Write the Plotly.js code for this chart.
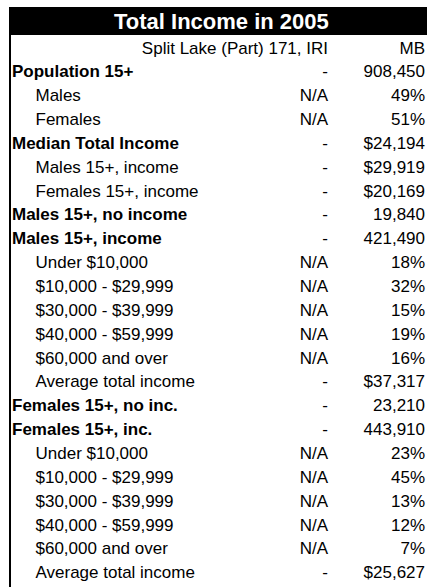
<!DOCTYPE html>
<html>
<head>
<meta charset="utf-8">
<script src="https://cdn.plot.ly/plotly-3.0.1.min.js"></script>
<style>html,body{margin:0;padding:0;background:#fff;}#chart{width:427px;height:587px;}</style>
</head>
<body>
<div id="chart"></div>
<script>
const titleText = "Total Income in 2005";
const headerGeo = "Split Lake (Part) 171, IRI";
const headerProv = "MB";
const rowLabels = [
  "Population 15+", "Males", "Females", "Median Total Income",
  "Males 15+, income", "Females 15+, income", "Males 15+, no income",
  "Males 15+, income", "Under $10,000", "$10,000 - $29,999", "$30,000 - $39,999",
  "$40,000 - $59,999", "$60,000 and over", "Average total income",
  "Females 15+, no inc.", "Females 15+, inc.", "Under $10,000", "$10,000 - $29,999",
  "$30,000 - $39,999", "$40,000 - $59,999", "$60,000 and over", "Average total income"
];
const rowLevel = [0,1,1,0,1,1,0,0,1,1,1,1,1,1,0,0,1,1,1,1,1,1];
const geoValues = ["-","N/A","N/A","-","-","-","-","-","N/A","N/A","N/A","N/A","N/A","-","-","-","N/A","N/A","N/A","N/A","N/A","-"];
const provValues = ["908,450","49%","51%","$24,194","$29,919","$20,169","19,840","421,490","18%","32%","15%","19%","16%","$37,317","23,210","443,910","23%","45%","13%","12%","7%","$25,627"];

const FONT = "Arial, Liberation Sans, sans-serif";
const y0 = 73, dy = 23.86;
const ys = rowLabels.map((_, i) => y0 + i * dy);

const labelTrace = {
  type: "scatter", mode: "text",
  x: rowLabels.map((_, i) => rowLevel[i] === 0 ? 12 : 35.5),
  y: ys,
  text: rowLabels.map((t, i) => rowLevel[i] === 0 ? "<b>" + t + "</b>" : t),
  textposition: "middle right",
  textfont: {family: FONT, size: 17, color: "#000"},
  hoverinfo: "skip", showlegend: false
};
const geoTrace = {
  type: "scatter", mode: "text",
  x: ys.map(() => 328).concat([328]),
  y: ys.concat([50]),
  text: geoValues.concat([headerGeo]),
  textposition: "middle left",
  textfont: {family: FONT, size: 17, color: "#000"},
  hoverinfo: "skip", showlegend: false
};
const provTrace = {
  type: "scatter", mode: "text",
  x: ys.map(() => 425).concat([425]),
  y: ys.concat([50]),
  text: provValues.concat([headerProv]),
  textposition: "middle left",
  textfont: {family: FONT, size: 17, color: "#000"},
  hoverinfo: "skip", showlegend: false
};

const layout = {
  width: 427, height: 587,
  margin: {l: 0, r: 0, t: 0, b: 0},
  paper_bgcolor: "#fff", plot_bgcolor: "#fff",
  xaxis: {range: [0, 427], visible: false, fixedrange: true},
  yaxis: {range: [587, 0], visible: false, fixedrange: true},
  shapes: [
    {type: "rect", xref: "x", yref: "y", x0: 9, x1: 427, y0: 7, y1: 35, fillcolor: "#000", line: {width: 0}},
    {type: "line", xref: "x", yref: "y", x0: 10, x1: 10, y0: 7, y1: 587, line: {color: "#000", width: 2}}
  ],
  annotations: [
    {xref: "x", yref: "y", x: 221.5, y: 21, text: "<b>" + titleText + "</b>", showarrow: false,
     font: {family: FONT, size: 22, color: "#fff"}, xanchor: "center", yanchor: "middle"}
  ]
};

Plotly.newPlot("chart", [labelTrace, geoTrace, provTrace], layout, {displayModeBar: false, staticPlot: true});
</script>
</body>
</html>
